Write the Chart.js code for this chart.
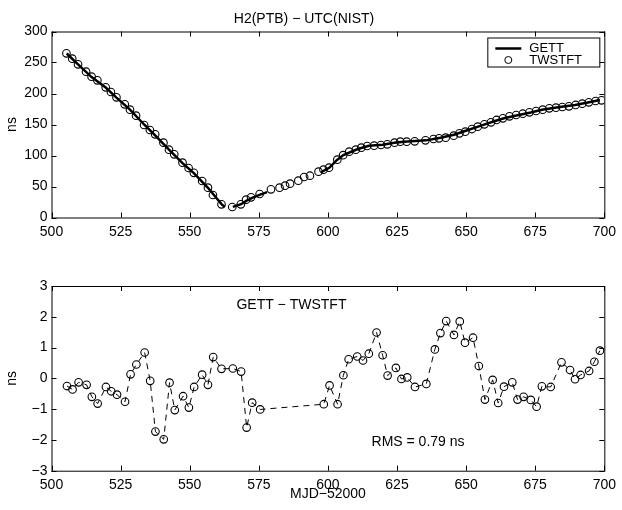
<!DOCTYPE html>
<html>
<head>
  <title>H2(PTB) - UTC(NIST)</title>
  <script src="https://cdn.jsdelivr.net/npm/chart.js"></script>
  <style>
    body {
      margin: 0;
      background-color: #fff;
    }
    .wrap {
      position: relative;
      width: 622px;
      height: 510px;
    }
    #topChart {
      position: absolute;
      left: 0;
      top: 0;
    }
    #diffChart {
      position: absolute;
      left: 0;
      top: 250px;
    }
  </style>
</head>
<body>
  <div class="wrap">
    <canvas id="topChart" width="622" height="250"></canvas>
    <canvas id="diffChart" width="622" height="260"></canvas>
  </div>

  <script>
    // TWSTFT points (MJD-52000, ns)
    const twMjd = [505.4, 507.5, 509.6, 512.5, 514.5, 516.6, 519.6, 521.5, 523.5, 526.5,
      528.4, 530.6, 533.5, 535.6, 537.5, 540.5, 542.5, 544.4, 547.4, 549.6,
      551.5, 554.5, 556.6, 558.4, 561.5, 565.4, 568.5, 570.4, 572.2, 575.3,
      579.4, 582.5, 584.5, 586.3, 589.3, 591.4, 593.5, 596.6, 598.4, 600.4,
      603.4, 605.5, 607.7, 610.1, 612.1, 614.2, 616.7, 619.2, 621.5, 624.1,
      626.2, 628.5, 631.4, 635.3, 638.2, 640.2, 642.6, 645.5, 647.6, 649.7,
      652.1, 654.2, 656.6, 659.0, 661.0, 663.3, 665.7, 668.1, 670.5, 672.9,
      675.3, 677.7, 680.1, 682.5, 684.8, 687.2, 689.6, 692.0, 694.4, 696.8, 699.0];
    const twNs = [264.8, 256.2, 247.0, 235.2, 227.1, 221.2, 210.0, 202.4, 193.8, 182.5,
      173.9, 164.2, 149.2, 141.1, 134.1, 120.7, 109.4, 101.9, 88.4, 79.8,
      72.0, 58.9, 48.1, 36.3, 21.2, 16.9, 21.2, 28.8, 32.5, 37.9,
      45.4, 48.1, 51.3, 54.6, 59.4, 65.3, 67.4, 73.9, 77.2, 80.4,
      93.3, 100.5, 106.2, 109.4, 112.7, 115.3, 115.9, 116.9, 118.0, 120.7,
      122.3, 122.3, 122.8, 124.5, 126.6, 127.7, 128.8, 132.0, 135.8, 138.4,
      142.7, 146.5, 150.3, 153.5, 157.3, 160.0, 163.2, 165.3, 167.4, 169.6,
      171.8, 173.9, 176.1, 177.1, 178.2, 179.3, 181.5, 183.6, 185.8, 187.9, 189.0];

    // GETT line, null = gap in the data
    const getMjd = [505.5, 509.6, 514.5, 519.6, 523.5, 528.4, 533.5, 537.5, 542.5, 547.4,
      551.5, 556.6, 561.5, 562.7, 564.0,
      565.6, 568.6, 570.6, 572.6, 575.5, 578.0, 587.0,
      597.5, 600.5, 603.2, 605.6, 610.6, 614.8, 619.8, 624.6, 628.7, 635.6,
      640.7, 645.6, 649.6, 654.6, 659.6, 663.7, 668.6, 673.4, 677.4, 684.5,
      689.4, 694.5, 698.4];
    const getNs = [264.5, 246.9, 226.5, 209.7, 193.3, 174.0, 150.0, 132.4, 109.3, 87.8,
      71.7, 47.9, 21.5, 17.0, null,
      17.2, 21.4, 27.2, 31.7, 36.9, 41.0, null,
      73.0, 80.2, 92.5, 100.6, 110.0, 115.8, 117.5, 121.0, 122.4, 124.4,
      128.5, 133.4, 139.5, 147.0, 154.5, 160.0, 165.0, 169.5, 173.7, 178.5,
      181.5, 186.0, 189.5];

    // GETT - TWSTFT (ns)
    const diffMjd = [505.6, 507.6, 509.8, 512.7, 514.6, 516.7, 519.7, 521.6, 523.7, 526.6,
      528.6, 530.7, 533.7, 535.7, 537.6, 540.6, 542.7, 544.6, 547.6, 549.7,
      551.6, 554.5, 556.6, 558.5, 561.5, 565.6, 568.6, 570.6, 572.6, 575.5,
      598.5, 600.6, 603.5, 605.6, 607.5, 610.6, 612.7, 614.8, 617.6, 619.8,
      621.6, 624.6, 626.6, 628.7, 631.5, 635.6, 638.7, 640.7, 642.8, 645.6,
      647.7, 649.6, 652.5, 654.6, 656.8, 659.6, 661.6, 663.7, 666.7, 668.6,
      670.8, 673.4, 675.5, 677.4, 680.6, 684.5, 687.6, 689.4, 691.4, 694.5, 696.4, 698.4];
    const diffNs = [-0.25, -0.36, -0.13, -0.21, -0.60, -0.82, -0.28, -0.42, -0.53, -0.76,
      0.13, 0.45, 0.84, -0.08, -1.73, -1.98, -0.14, -1.03, -0.58, -0.95,
      -0.28, 0.12, -0.21, 0.69, 0.31, 0.32, 0.22, -1.60, -0.79, -1.01,
      -0.84, -0.23, -0.84, 0.10, 0.62, 0.71, 0.58, 0.80, 1.49, 0.75,
      0.09, 0.34, -0.02, 0.03, -0.28, -0.18, 0.94, 1.47, 1.86, 1.41,
      1.85, 1.16, 1.32, 0.40, -0.69, -0.05, -0.80, -0.27, -0.13, -0.69,
      -0.60, -0.70, -0.92, -0.26, -0.28, 0.52, 0.27, -0.03, 0.11, 0.24, 0.54, 0.90];

    const xTicks = [500, 525, 550, 575, 600, 625, 650, 675, 700];
    const topTicks = [0, 50, 100, 150, 200, 250, 300];
    const diffTicks = [-3, -2, -1, 0, 1, 2, 3];

    Chart.defaults.font.family = '"Liberation Sans", Arial, sans-serif';
    Chart.defaults.font.size = 14;
    Chart.defaults.color = '#000';
    Chart.defaults.animation = false;

    const FONT = '14px "Liberation Sans", Arial, sans-serif';
    const LEGEND_FONT = '13px "Liberation Sans", Arial, sans-serif';

    function pairs(xs, ys) {
      return xs.map((x, i) => ({ x: x, y: ys[i] }));
    }

    function minus(v) {
      return String(v).replace('-', '\u2212');
    }

    // box round the plot with inward ticks on all four sides
    const framePlugin = {
      id: 'frame',
      afterDatasetsDraw(chart) {
        const ctx = chart.ctx;
        const a = chart.chartArea;
        const xs = chart.scales.x;
        const ys = chart.scales.y;
        ctx.save();
        ctx.strokeStyle = '#000';
        ctx.lineWidth = 1;
        ctx.strokeRect(a.left + 0.5, a.top + 0.5, a.right - a.left, a.bottom - a.top);
        ctx.beginPath();
        xs.ticks.forEach(t => {
          const px = Math.round(xs.getPixelForValue(t.value)) + 0.5;
          ctx.moveTo(px, a.bottom); ctx.lineTo(px, a.bottom - 5);
          ctx.moveTo(px, a.top); ctx.lineTo(px, a.top + 5);
        });
        ys.ticks.forEach(t => {
          const py = Math.round(ys.getPixelForValue(t.value)) + 0.5;
          ctx.moveTo(a.left, py); ctx.lineTo(a.left + 5, py);
          ctx.moveTo(a.right, py); ctx.lineTo(a.right - 5, py);
        });
        ctx.stroke();
        ctx.restore();
      }
    };

    const legendPlugin = {
      id: 'boxLegend',
      afterDraw(chart) {
        const ctx = chart.ctx;
        const a = chart.chartArea;
        const w = 112, h = 29;
        const x0 = a.right - 5 - w, y0 = a.top + 6;
        ctx.save();
        ctx.fillStyle = '#fff';
        ctx.fillRect(x0, y0, w, h);
        ctx.strokeStyle = '#000';
        ctx.lineWidth = 1;
        ctx.strokeRect(x0 + 0.5, y0 + 0.5, w, h);
        ctx.lineWidth = 2.5;
        ctx.beginPath();
        ctx.moveTo(x0 + 8, y0 + 11);
        ctx.lineTo(x0 + 34, y0 + 11);
        ctx.stroke();
        ctx.lineWidth = 1;
        ctx.beginPath();
        ctx.arc(x0 + 21, y0 + 22.5, 3.5, 0, Math.PI * 2);
        ctx.stroke();
        ctx.fillStyle = '#000';
        ctx.font = LEGEND_FONT;
        ctx.textBaseline = 'middle';
        ctx.fillText('GETT', x0 + 42, y0 + 10.5);
        ctx.fillText('TWSTFT', x0 + 42, y0 + 22.5);
        ctx.restore();
      }
    };

    const notePlugin = {
      id: 'notes',
      afterDraw(chart) {
        const ctx = chart.ctx;
        const xs = chart.scales.x;
        const ys = chart.scales.y;
        ctx.save();
        ctx.fillStyle = '#000';
        ctx.font = FONT;
        ctx.textAlign = 'center';
        ctx.textBaseline = 'middle';
        ctx.fillText('GETT \u2212 TWSTFT', xs.getPixelForValue(586.8), ys.getPixelForValue(2.38));
        ctx.fillText('RMS = 0.79 ns', xs.getPixelForValue(632.6), ys.getPixelForValue(-2.06));
        ctx.restore();
      }
    };

    function xScale(height, withTitle) {
      return {
        type: 'linear',
        min: 500,
        max: 700,
        afterBuildTicks: s => { s.ticks = xTicks.map(v => ({ value: v })); },
        ticks: { padding: 6, maxRotation: 0, autoSkip: false },
        grid: { display: false, drawTicks: false },
        border: { display: false },
        title: { display: withTitle, text: 'MJD\u221252000', padding: { top: 0, bottom: 7 } },
        afterFit: s => { s.height = height; }
      };
    }

    function yScale(min, max, ticks) {
      return {
        min: min,
        max: max,
        afterBuildTicks: s => { s.ticks = ticks.map(v => ({ value: v })); },
        ticks: { padding: 4, callback: v => minus(v) },
        grid: { display: false, drawTicks: false },
        border: { display: false },
        title: { display: true, text: 'ns', padding: { top: 4, bottom: 0 } },
        afterFit: s => { s.width = 51.5; }
      };
    }

    new Chart(document.getElementById('topChart'), {
      type: 'line',
      data: {
        datasets: [{
          label: 'GETT',
          data: pairs(getMjd, getNs),
          borderColor: '#000',
          borderWidth: 2.5,
          pointRadius: 0,
          spanGaps: false,
          fill: false
        }, {
          label: 'TWSTFT',
          data: pairs(twMjd, twNs),
          showLine: false,
          borderColor: '#000',
          pointBorderColor: '#000',
          pointBackgroundColor: 'rgba(0,0,0,0)',
          pointBorderWidth: 1.1,
          pointRadius: 3.8
        }]
      },
      options: {
        responsive: false,
        devicePixelRatio: 1,
        layout: { padding: { left: 0, right: 14, top: 0, bottom: 0 } },
        plugins: {
          legend: { display: false },
          tooltip: { enabled: false },
          title: {
            display: true,
            text: 'H2(PTB) \u2212 UTC(NIST)',
            font: { size: 14, weight: 'normal' },
            color: '#000',
            padding: { top: 10.5, bottom: 4.2 }
          }
        },
        scales: {
          x: xScale(32.5, false),
          y: yScale(0, 300, topTicks)
        }
      },
      plugins: [framePlugin, legendPlugin]
    });

    new Chart(document.getElementById('diffChart'), {
      type: 'line',
      data: {
        datasets: [{
          label: 'GETT - TWSTFT',
          data: pairs(diffMjd, diffNs),
          borderColor: '#000',
          borderWidth: 1,
          borderDash: [6, 5],
          pointBorderColor: '#000',
          pointBackgroundColor: 'rgba(0,0,0,0)',
          pointBorderWidth: 1.1,
          pointRadius: 3.8,
          fill: false
        }]
      },
      options: {
        responsive: false,
        devicePixelRatio: 1,
        layout: { padding: { left: 0, right: 14, top: 36, bottom: 0 } },
        plugins: {
          legend: { display: false },
          tooltip: { enabled: false }
        },
        scales: {
          x: xScale(39.3, true),
          y: yScale(-3, 3, diffTicks)
        }
      },
      plugins: [framePlugin, notePlugin]
    });
  </script>
</body>
</html>
